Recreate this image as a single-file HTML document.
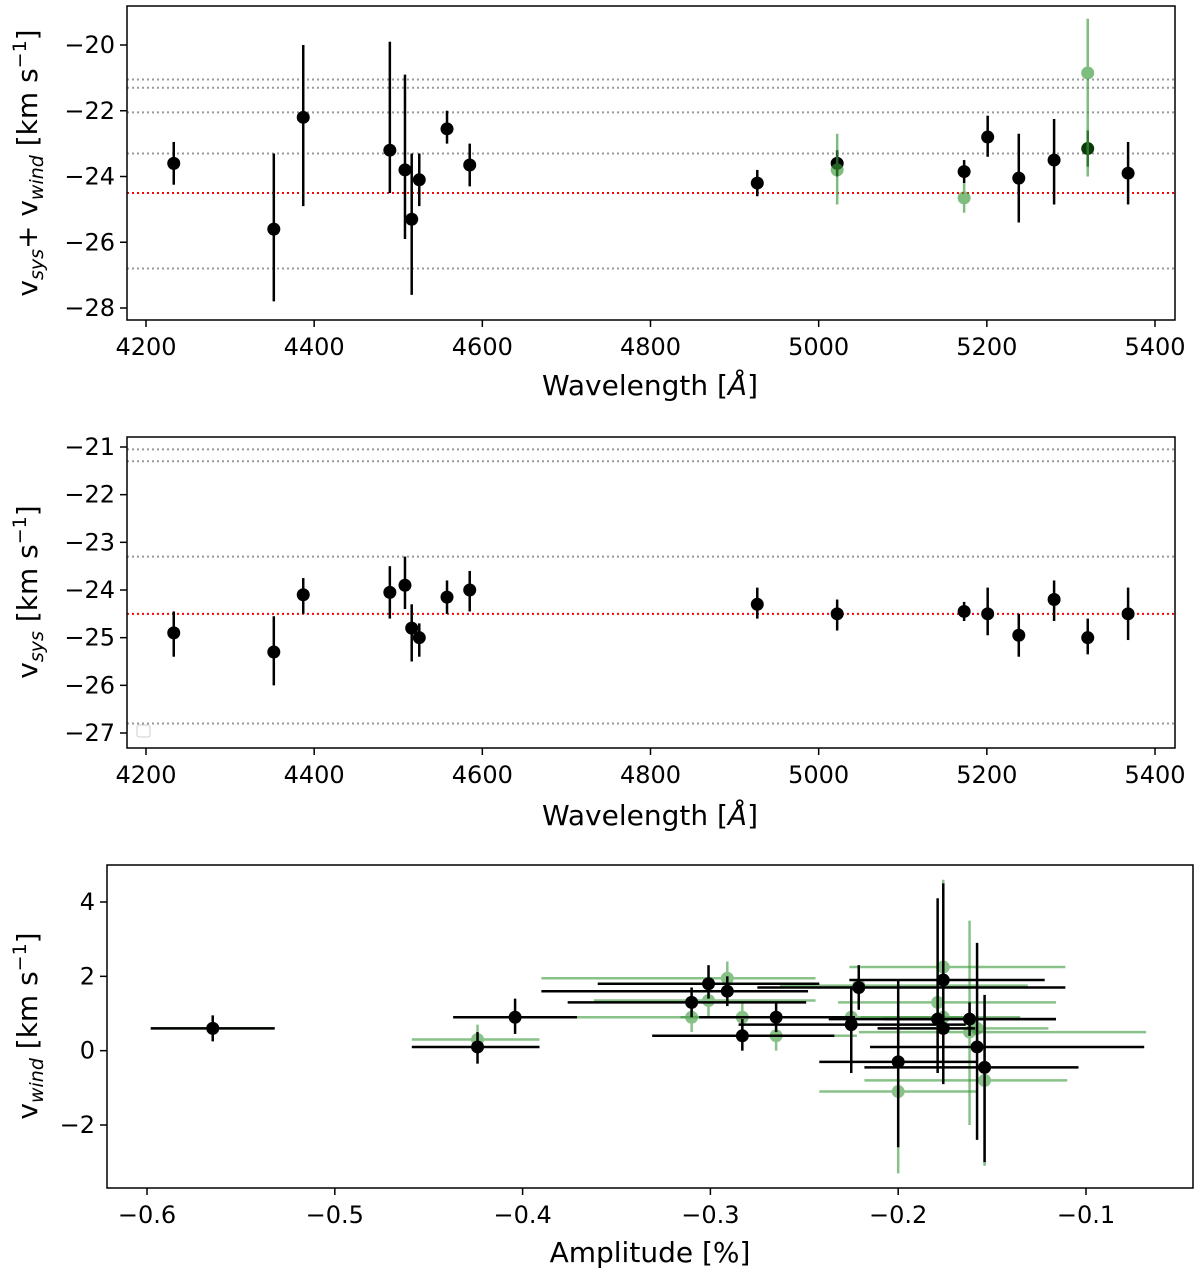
<!DOCTYPE html>
<html><head><meta charset="utf-8"><style>
body{margin:0;background:#fff}
svg text{font-family:"DejaVu Sans","Liberation Sans",sans-serif;fill:#000}
</style></head><body>
<svg id="s" width="1200" height="1277" xmlns="http://www.w3.org/2000/svg"></svg>
<script>
// Panel 1 & 2 data
const wl=[4233,4352,4387,4490,4508,4516,4525,4558,4585,4927,5022,5173,5201,5238,5280,5320,5368];
const p1v=[-23.6,-25.6,-22.2,-23.2,-23.8,-25.3,-24.1,-22.55,-23.65,-24.2,-23.6,-23.85,-22.8,-24.05,-23.5,-23.15,-23.9];
const p1lo=[-24.25,-27.8,-24.9,-24.5,-25.9,-27.6,-24.9,-23.0,-24.3,-24.6,-24.0,-24.2,-23.4,-25.4,-24.85,-23.7,-24.85];
const p1hi=[-22.95,-23.3,-20.0,-19.9,-20.9,-23.3,-23.3,-22.0,-23.0,-23.8,-23.2,-23.5,-22.15,-22.7,-22.25,-22.6,-22.95];
const p1gWl=[5022,5173,5320];
const p1gV=[-23.8,-24.65,-20.85];
const p1gLo=[-24.85,-25.1,-24.0];
const p1gHi=[-22.7,-24.2,-19.2];
const p2v=[-24.9,-25.3,-24.1,-24.05,-23.9,-24.8,-25.0,-24.15,-24.0,-24.3,-24.5,-24.45,-24.5,-24.95,-24.2,-25.0,-24.5];
const p2lo=[-25.4,-26.0,-24.5,-24.6,-24.4,-25.5,-25.4,-24.5,-24.45,-24.6,-24.85,-24.65,-24.95,-25.4,-24.65,-25.35,-25.05];
const p2hi=[-24.45,-24.55,-23.75,-23.5,-23.3,-24.3,-24.7,-23.8,-23.6,-23.95,-24.2,-24.25,-23.95,-24.5,-23.8,-24.6,-23.95];
const p1gray=[-21.05,-21.3,-22.05,-23.3,-26.8];
const p2gray=[-21.05,-21.3,-23.3,-26.8];
const redLine=-24.5;
// Panel 3 data
const amp=[-0.565,-0.424,-0.404,-0.310,-0.301,-0.291,-0.283,-0.265,-0.225,-0.221,-0.2,-0.179,-0.176,-0.176,-0.162,-0.158,-0.154];
const ampLo=[-0.598,-0.459,-0.437,-0.376,-0.36,-0.39,-0.331,-0.306,-0.285,-0.275,-0.242,-0.237,-0.226,-0.211,-0.208,-0.215,-0.218];
const ampHi=[-0.532,-0.391,-0.371,-0.249,-0.242,-0.248,-0.234,-0.223,-0.164,-0.111,-0.158,-0.116,-0.122,-0.159,-0.116,-0.069,-0.104];
const vw=[0.6,0.1,0.9,1.3,1.8,1.6,0.4,0.9,0.7,1.7,-0.3,0.85,1.9,0.6,0.85,0.1,-0.45];
const vwLo=[0.25,-0.35,0.45,0.9,1.4,1.2,0,0.5,-0.6,1.1,-2.6,-0.6,-0.9,0.2,0.4,-2.4,-3.0];
const vwHi=[0.95,0.5,1.4,1.7,2.3,2.0,0.85,1.3,1.7,2.3,1.9,4.1,4.5,1.0,1.3,2.9,1.5];
const gAmp=[-0.565,-0.424,-0.310,-0.301,-0.291,-0.283,-0.265,-0.225,-0.221,-0.2,-0.179,-0.176,-0.176,-0.162,-0.158,-0.154];
const gAmpLo=[-0.598,-0.459,-0.371,-0.362,-0.39,-0.316,-0.306,-0.284,-0.263,-0.242,-0.232,-0.226,-0.22,-0.221,-0.2,-0.218];
const gAmpHi=[-0.532,-0.391,-0.252,-0.244,-0.244,-0.228,-0.222,-0.162,-0.131,-0.158,-0.116,-0.111,-0.135,-0.068,-0.12,-0.11];
const gVw=[0.6,0.3,0.9,1.35,1.95,0.9,0.4,0.9,1.75,-1.1,1.3,2.25,0.9,0.5,0.6,-0.8];
const gVwLo=[0.3,-0.1,0.5,0.9,1.5,0.5,0.0,0.4,1.3,-3.3,0.7,-0.3,0.5,-2.0,0.2,-3.1];
const gVwHi=[0.9,0.7,1.3,1.8,2.4,1.3,0.8,1.4,2.2,1.1,1.9,4.6,1.3,3.5,1.0,1.4];

const NS="http://www.w3.org/2000/svg",S=document.getElementById('s');
function el(t,a,p){const e=document.createElementNS(NS,t);for(const k in a)e.setAttribute(k,a[k]);(p||S).appendChild(e);return e;}
function lin(d0,d1,r0,r1){return v=>r0+(v-d0)*(r1-r0)/(d1-d0);}

function panel(id,box,xs,ys,xt,yt,xfmt,yfmt){
  const g=el('g',{});
  
  
  const [x0,y0,x1,y1]=box;
  xt.forEach(v=>{const x=xs(v);el('line',{x1:x,x2:x,y1:y1,y2:y1+7,stroke:'#000','stroke-width':1.5},g);
    const t=el('text',{x:x,y:y1+35,'text-anchor':'middle','font-size':24},g);t.textContent=xfmt(v);
    });
  yt.forEach(v=>{const y=ys(v);el('line',{x1:x0-7,x2:x0,y1:y,y2:y,stroke:'#000','stroke-width':1.5},g);
    const t=el('text',{x:x0-12,y:y+8,'text-anchor':'end','font-size':24},g);t.textContent=yfmt(v);
    });
  return g;
}
function frame(box,g){const [x0,y0,x1,y1]=box;const r=el('rect',{x:x0,y:y0,width:x1-x0,height:y1-y0,fill:'none',stroke:'#000','stroke-width':1.5},g);
  }
function hline(g,box,y,color){const l=el('line',{x1:box[0],x2:box[2],y1:y,y2:y,stroke:color,'stroke-width':2,'stroke-dasharray':'2,3'},g);
  }
function pt(g,x,y,ylo,yhi,col,op,xlo,xhi){
  const e=el('g',{opacity:op},g);
  
  el('line',{x1:x,x2:x,y1:ylo,y2:yhi,stroke:col,'stroke-width':2.5},e);
  if(xlo!==undefined)el('line',{x1:xlo,x2:xhi,y1:y,y2:y,stroke:col,'stroke-width':2.5},e);
  el('circle',{cx:x,cy:y,r:6.5,fill:col},e);
}
const fmtMinus=v=>(v<0?'\u2212':'')+Math.abs(v);
// Panel 1
let b1=[127,6,1175,320];
let xs=lin(4200,5400,146,1155), ys1=lin(-20,-28,45,308);
let g1=panel('panel-vsys-vwind',b1,xs,ys1,[4200,4400,4600,4800,5000,5200,5400],[-20,-22,-24,-26,-28],v=>v,fmtMinus);
p1gray.forEach(v=>hline(g1,b1,ys1(v),'#999'));hline(g1,b1,ys1(redLine),'red');
wl.forEach((w,i)=>pt(g1,xs(w),ys1(p1v[i]),ys1(p1lo[i]),ys1(p1hi[i]),i==15?'#0a3a0a':'#000',1));
p1gWl.forEach((w,i)=>pt(g1,xs(w),ys1(p1gV[i]),ys1(p1gLo[i]),ys1(p1gHi[i]),'#3a9a3a',0.65));
frame(b1,g1);
// Panel 2
let b2=[127,437,1175,748];
let ys2=lin(-21,-27,447,733);
let g2=panel('panel-vsys',b2,xs,ys2,[4200,4400,4600,4800,5000,5200,5400],[-21,-22,-23,-24,-25,-26,-27],v=>v,fmtMinus);
p2gray.forEach(v=>hline(g2,b2,ys2(v),'#999'));hline(g2,b2,ys2(redLine),'red');
wl.forEach((w,i)=>pt(g2,xs(w),ys2(p2v[i]),ys2(p2lo[i]),ys2(p2hi[i]),'#000',1));
const lg=el('rect',{x:137,y:725,width:13,height:12,rx:2,fill:'none',stroke:'#ccc','stroke-width':1},g2);

frame(b2,g2);
// Panel 3
let b3=[107,865,1193,1188];
let xs3=lin(-0.6,-0.1,147,1086), ys3=lin(4,-2,902,1125);
let g3=panel('panel-vwind-amplitude',b3,xs3,ys3,[-0.6,-0.5,-0.4,-0.3,-0.2,-0.1],[4,2,0,-2],v=>'\u2212'+Math.abs(v).toFixed(1),fmtMinus);
gAmp.forEach((a,i)=>pt(g3,xs3(a),ys3(gVw[i]),ys3(gVwLo[i]),ys3(gVwHi[i]),'#3a9a3a',0.6,xs3(gAmpLo[i]),xs3(gAmpHi[i])));
amp.forEach((a,i)=>pt(g3,xs3(a),ys3(vw[i]),ys3(vwLo[i]),ys3(vwHi[i]),'#000',1,xs3(ampLo[i]),xs3(ampHi[i])));
frame(b3,g3);
</script>
<svg style="position:absolute;left:0;top:0" width="1200" height="1277">
<text x="650" y="395" text-anchor="middle" font-size="28">Wavelength [<tspan font-style="italic">Å</tspan>]</text>
<text x="650" y="825" text-anchor="middle" font-size="28">Wavelength [<tspan font-style="italic">Å</tspan>]</text>
<text x="650" y="1262" text-anchor="middle" font-size="28">Amplitude [%]</text>
<text transform="translate(37,163) rotate(-90)" text-anchor="middle" font-size="28">v<tspan font-size="19" font-style="italic" dy="6">sys</tspan><tspan dy="-6">+ v</tspan><tspan font-size="19" font-style="italic" dy="6">wind</tspan><tspan dy="-6"> [km s</tspan><tspan font-size="19" dy="-11">−1</tspan><tspan dy="11">]</tspan></text>
<text transform="translate(37,592) rotate(-90)" text-anchor="middle" font-size="28">v<tspan font-size="19" font-style="italic" dy="6">sys</tspan><tspan dy="-6"> [km s</tspan><tspan font-size="19" dy="-11">−1</tspan><tspan dy="11">]</tspan></text>
<text transform="translate(37,1026) rotate(-90)" text-anchor="middle" font-size="28">v<tspan font-size="19" font-style="italic" dy="6">wind</tspan><tspan dy="-6"> [km s</tspan><tspan font-size="19" dy="-11">−1</tspan><tspan dy="11">]</tspan></text>
</svg>
</body></html>
